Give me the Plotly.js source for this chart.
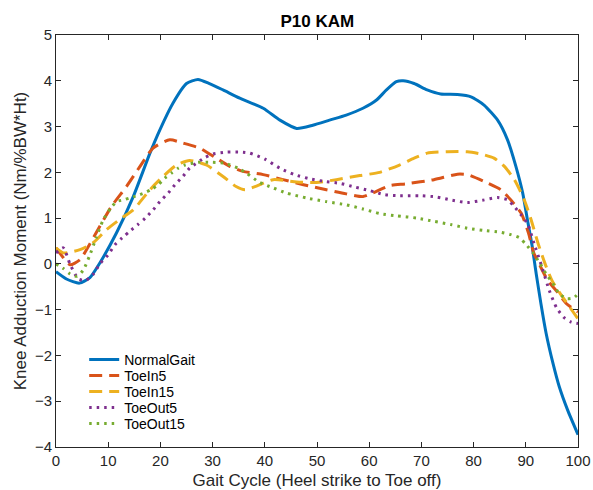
<!DOCTYPE html>
<html><head><meta charset="utf-8">
<script src="https://cdn.plot.ly/plotly-3.0.1.min.js"></script>
<style>body{margin:0;background:#fff}#c{width:593px;height:490px}</style>
</head><body><div id="c"></div>
<script>
const normalX = [0,2,4.5,6.5,8.4,11.6,14.8,18,19.9,22.4,25,27.2,29.4,32,35.2,39.7,42.9,46.1,49.2,52.4,55.6,58.8,61.4,63.3,65.2,66.5,68.6,71.1,73.7,76.9,79.5,82,84.6,86.5,88.1,89.4,90.3,91.2,92,92.9,93.9,95.2,96.4,98,100];
const normalY = [-0.17,-0.33,-0.42,-0.3,0.02,0.68,1.47,2.42,2.93,3.51,3.94,4.03,3.94,3.8,3.62,3.40,3.14,2.96,3.03,3.14,3.25,3.4,3.58,3.80,3.98,4.0,3.94,3.80,3.71,3.70,3.65,3.47,3.14,2.71,2.13,1.55,0.97,0.40,-0.22,-0.87,-1.52,-2.17,-2.68,-3.19,-3.73];

const toeIn5X = [0,1.3,2.7,4.6,6.2,8.4,10.6,13.5,16.1,18.6,21.8,24.3,27.5,30.7,33.3,35.8,39.7,43.5,47.4,51.8,55.6,58.8,60.7,63.9,67.1,72.4,76.9,78.8,82,85.2,87.1,89.1,90.5,91.5,93,94.2,96.1,97.8,100];
const toeIn5Y = [0.35,0.15,-0.02,0.09,0.38,0.82,1.25,1.69,2.13,2.53,2.71,2.64,2.53,2.31,2.13,2.02,1.95,1.84,1.73,1.62,1.53,1.47,1.55,1.71,1.75,1.84,1.96,1.95,1.80,1.62,1.40,1.11,0.68,0.25,-0.1,-0.36,-0.62,-0.87,-1.05];

const toeIn15X = [0,1.4,4.6,7.1,9.7,12.2,14.8,18,20.5,23.1,25.6,28.8,32,34.5,36.2,38.4,41.6,46.1,49.9,53.7,58.2,62,65.8,68.6,71.1,75,78.8,81.4,83.9,85.9,87.8,89.7,91,92.4,93.7,95,96.6,98.2,100];
const toeIn15Y = [0.35,0.24,0.31,0.46,0.75,0.97,1.18,1.62,1.91,2.16,2.26,2.16,1.91,1.69,1.62,1.70,1.84,1.79,1.78,1.84,1.93,2.0,2.16,2.31,2.42,2.45,2.45,2.40,2.31,2.13,1.84,1.40,0.97,0.43,0,-0.36,-0.65,-0.91,-1.2];

const toeOut5X = [0,1.4,2.7,4.3,5.7,7.1,8.4,10,11.3,12.7,14.1,15.7,17.1,18.6,19.9,21.5,22.8,24.3,25.6,28.5,30.1,32.6,35.8,37.1,40,42.9,45.7,48.6,51.5,54.4,57.2,60.1,63,65.8,69.8,73,75.9,78.8,81.7,84.6,86.5,87.8,89.1,90.4,91.6,93.1,94.5,95.9,97.3,98.7,100];
const toeOut5Y = [0.24,0.35,-0.01,-0.33,-0.36,-0.23,0.0,0.2,0.42,0.57,0.71,0.86,1.0,1.18,1.36,1.55,1.73,1.91,2.09,2.32,2.4,2.44,2.44,2.42,2.29,2.09,1.95,1.86,1.80,1.76,1.68,1.60,1.51,1.49,1.49,1.46,1.39,1.34,1.39,1.45,1.40,1.25,1.07,0.86,0.44,-0.07,-0.58,-0.96,-1.17,-1.27,-1.3];

const toeOut15X = [0,1.4,2.7,4,5.2,6.4,7.7,9,10.5,11.6,13,14.1,15.5,16.9,18.2,19.6,20.8,22.1,23.4,24.7,27.2,29.8,32.3,34.9,36.5,39,41.6,44.1,48,51.8,55.6,58.8,62,65.2,69.2,72.4,75.6,78.8,82,85.2,87.1,88.8,90,91.3,92.6,93.9,95.2,96.4,97.9,99.2,100];
const toeOut15Y = [0,-0.1,-0.22,-0.27,-0.14,0.17,0.57,0.95,1.22,1.36,1.4,1.44,1.49,1.55,1.62,1.73,1.87,1.98,2.09,2.16,2.22,2.22,2.2,2.09,1.98,1.78,1.66,1.55,1.44,1.36,1.29,1.20,1.10,1.05,1.0,0.93,0.86,0.78,0.73,0.69,0.64,0.57,0.43,0.25,0.03,-0.22,-0.43,-0.65,-0.76,-0.74,-0.65];

const names = ['NormalGait','ToeIn5','ToeIn15','ToeOut5','ToeOut15'];
const colors = ['#0072BD','#D95319','#EDB120','#7E2F8E','#77AC30'];
const dashes = ['solid','13px,7px','13px,7px','2.5px,5px','2.5px,5px'];
const xTicks = [0,10,20,30,40,50,60,70,80,90,100];
const yTicks = [-4,-3,-2,-1,0,1,2,3,4,5];

const xs = [normalX,toeIn5X,toeIn15X,toeOut5X,toeOut15X];
const ys = [normalY,toeIn5Y,toeIn15Y,toeOut5Y,toeOut15Y];
const legendIds = ['legend','legend2','legend3','legend4','legend5'];
const data = names.map((n,i) => ({x:xs[i],y:ys[i],name:n,type:'scatter',mode:'lines',legend:legendIds[i],
  line:{color:colors[i],width:3,dash:dashes[i],shape:'spline',smoothing:0.6}}));

const ax = {showline:true,linecolor:'#262626',linewidth:1,mirror:'ticks',ticks:'inside',ticklen:5,tickcolor:'#262626',
  showgrid:false,zeroline:false,tickfont:{size:15,color:'#262626'}};
const legendY = [0.2112,0.1723,0.1335,0.0947,0.0558];
const layout = {
  width:593,height:490,margin:{l:56,r:15,t:35,b:43},
  paper_bgcolor:'#fff',plot_bgcolor:'#fff',
  font:{family:'Liberation Sans, Arial, sans-serif',color:'#262626'},
  title:{text:'<b>P10 KAM</b>',font:{size:17,color:'#000'},x:0.535,xanchor:'center',y:0.957,yanchor:'middle'},
  xaxis:Object.assign({},ax,{range:[0,100],tickvals:xTicks,title:{text:'Gait Cycle (Heel strike to Toe off)',font:{size:17},standoff:6}}),
  yaxis:Object.assign({},ax,{range:[-4,5],tickvals:yTicks,title:{text:'Knee Adduction Moment (Nm/%BW*Ht)',font:{size:17},standoff:3}}),
  showlegend:true
};
legendIds.forEach((id,i) => {
  layout[id] = {x:0.054,y:legendY[i],xanchor:'left',yanchor:'middle',bgcolor:'rgba(0,0,0,0)',
    font:{size:14,color:'#000'},borderwidth:0};
});
Plotly.newPlot('c',data,layout,{staticPlot:true});
</script></body></html>
